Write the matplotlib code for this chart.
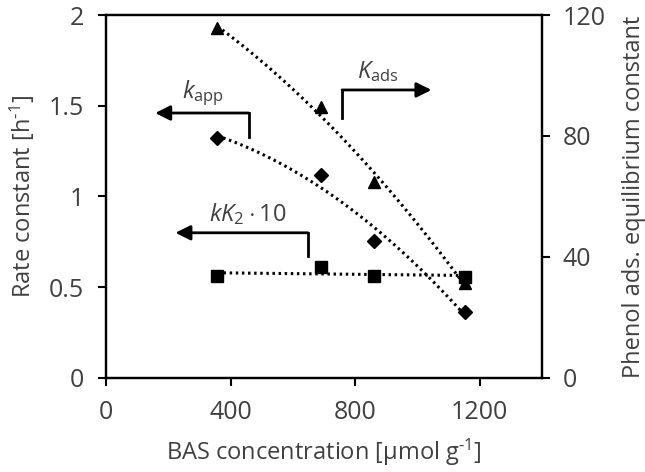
import numpy as np
import matplotlib.pyplot as plt

plt.rcParams['font.family'] = ['Open Sans', 'DejaVu Sans']
plt.rcParams['mathtext.fontset'] = 'custom'
plt.rcParams['mathtext.rm'] = 'Open Sans'
plt.rcParams['mathtext.it'] = 'Open Sans:italic'

# === data ===
bas = [358, 690, 861, 1152]              # umol/g
k_app = [1.32, 1.12, 0.755, 0.364]       # h-1
kK2_10 = [0.562, 0.61, 0.56, 0.556]      # h-1
K_ads = [115.7, 89.5, 64.8, 31.4]        # right axis

fig = plt.figure(figsize=(6.45, 4.72), dpi=100)
ax = fig.add_axes([0.1643, 0.1992, 0.676, 0.769])
ax2 = ax.twinx()

fs = 18
lfs = 17
grey = '#404040'
dot = dict(color='black', linestyle=(0, (0.8, 1.2)), linewidth=2.2)

xx = np.linspace(min(bas), max(bas), 100)

# trend lines (2nd order poly like excel)
p = np.polyfit(bas, k_app, 2)
ax.plot(xx, np.polyval(p, xx), **dot)
p = np.polyfit(bas, kK2_10, 1)
ax.plot(xx, np.polyval(p, xx), **dot)
p = np.polyfit(bas, K_ads, 2)
ax2.plot(xx, np.polyval(p, xx), **dot)

ax.plot(bas, k_app, 'D', color='black', ms=7, zorder=5)
ax.plot(bas, kK2_10, 's', color='black', ms=9, zorder=5)
ax2.plot(bas, K_ads, '^', color='black', ms=9, zorder=5)

ax.set_xlim(0, 1400)
ax.set_ylim(0, 2)
ax2.set_ylim(0, 120)
ax.set_xticks([0, 400, 800, 1200])
ax.set_yticks([0, 0.5, 1, 1.5, 2])
ax.set_yticklabels(['0', '0.5', '1', '1.5', '2'])
ax2.set_yticks([0, 40, 80, 120])

for a in (ax, ax2):
    a.tick_params(direction='out', length=6, width=1.5, labelsize=fs, colors='black',
                  labelcolor=grey)
    for s in a.spines.values():
        s.set_linewidth(1.6)
        s.set_color('black')
ax.tick_params(axis='x', pad=10)
ax.tick_params(axis='y', pad=10)
ax2.tick_params(axis='y', pad=9)

ax.set_xlabel(r'BAS concentration [µmol g$^{\text{-1}}$]', fontsize=lfs, color=grey, labelpad=8)
ax.set_ylabel(r'Rate constant [h$^{\text{-1}}$]', fontsize=lfs, color=grey, labelpad=8)
ax2.set_ylabel('Phenol ads. equilibrium constant', fontsize=lfs, color=grey, labelpad=12)

# annotation arrows
arr = dict(arrowstyle='-|>,head_length=0.9,head_width=0.45', lw=2, color='black',
           shrinkA=0, shrinkB=0)
# k_app
ax.plot([458, 458], [1.33, 1.46], color='black', lw=2)
ax.annotate('', xy=(158, 1.46), xytext=(458, 1.46), arrowprops=arr)
ax.text(313, 1.57, r'$k_{\mathrm{app}}$', fontsize=lfs, ha='center', va='center', color=grey)
# K_ads
ax.plot([758, 758], [1.43, 1.587], color='black', lw=2)
ax.annotate('', xy=(1045, 1.587), xytext=(758, 1.587), arrowprops=arr)
ax.text(874, 1.69, r'$K_{\mathrm{ads}}$', fontsize=lfs, ha='center', va='center', color=grey)
# kK2*10
ax.plot([648, 648], [0.672, 0.80], color='black', lw=2)
ax.annotate('', xy=(223, 0.80), xytext=(648, 0.80), arrowprops=arr)
ax.text(455, 0.90, r'$kK_{\mathrm{2}}\cdot\mathrm{10}$', fontsize=lfs, ha='center', va='center', color=grey)

fig.savefig('out.png', dpi=100)
